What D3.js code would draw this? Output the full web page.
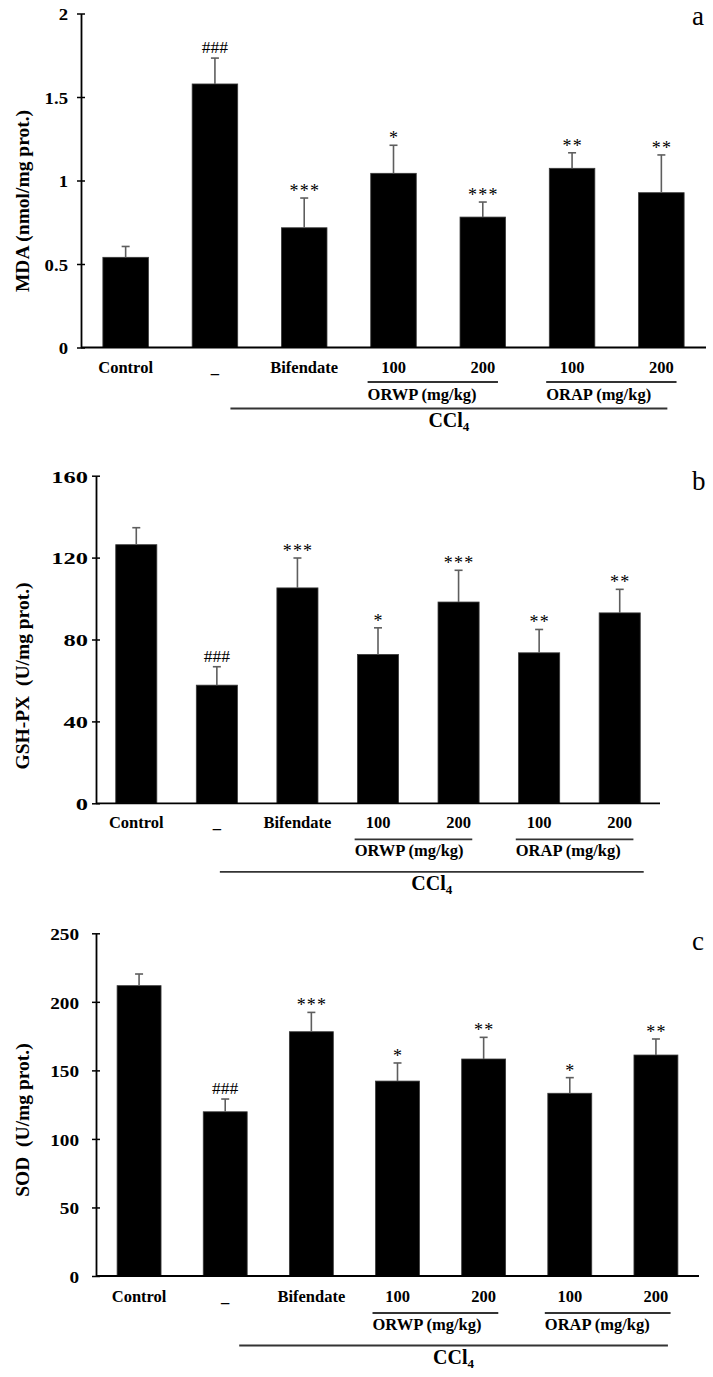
<!DOCTYPE html>
<html>
<head>
<meta charset="utf-8">
<script src="https://cdn.jsdelivr.net/npm/d3@7"></script>
<style>
  html, body { margin: 0; padding: 0; background: #fff; }
  svg { display: block; }
  text { font-family: "Liberation Serif", "Times New Roman", serif; }
</style>
</head>
<body>
<svg id="chart" width="713" height="1377"></svg>
<script>
// ---------- data ----------
const categories = ["Control", "_", "Bifendate", "100", "200", "100", "200"];

const mdaValues = [0.54, 1.578, 0.717, 1.043, 0.781, 1.073, 0.927];
const mdaErrors = [0.065, 0.155, 0.178, 0.168, 0.09, 0.093, 0.226];
const mdaMarks  = ["", "###", "***", "*", "***", "**", "**"];
const mdaTicks  = [0, 0.5, 1, 1.5, 2];

const gshValues = [126.3, 57.7, 105.2, 72.7, 98.3, 73.5, 93.0];
const gshErrors = [8.3, 9.0, 14.6, 13.0, 15.5, 11.4, 11.5];
const gshMarks  = ["", "###", "***", "*", "***", "**", "**"];
const gshTicks  = [0, 40, 80, 120, 160];

const sodValues = [211.8, 119.8, 178.2, 142.2, 158.3, 133.3, 161.2];
const sodErrors = [8.5, 9.3, 14.1, 13.2, 15.8, 11.4, 11.7];
const sodMarks  = ["", "###", "***", "*", "**", "*", "**"];
const sodTicks  = [0, 50, 100, 150, 200, 250];

const groupLabels  = ["ORWP (mg/kg)", "ORAP (mg/kg)"];
const groupMembers = [[3, 4], [5, 6]];
const treatLabel   = "CCl";
const treatSub     = "4";
const treatMembers = [1, 6];

const panels = [
  { letter: "a", title: "MDA (nmol/mg prot.)", values: mdaValues, errors: mdaErrors, marks: mdaMarks, ticks: mdaTicks,
    x0: 81, x1: 706, y0: 347.5, yTop: 13.5, tickScale: 1.07, tickGap: 13, titleY: 201,
    off: { cat: 25.5, gLine: 34.5, gText: 52.5, tLine: 61, tText: 79.5 }, tPad: [15.5, 6], letterPos: [692, 25] },
  { letter: "b", title: "GSH-PX  (U/mg prot.)", values: gshValues, errors: gshErrors, marks: gshMarks, ticks: gshTicks,
    x0: 96, x1: 660, y0: 803.3, yTop: 475.7, tickScale: 1.4, tickGap: 8, titleY: 676,
    off: { cat: 25, gLine: 36, gText: 52.5, tLine: 68.5, tText: 87 }, tPad: [3, 24], letterPos: [692, 490] },
  { letter: "c", title: "SOD  (U/mg prot.)", values: sodValues, errors: sodErrors, marks: sodMarks, ticks: sodTicks,
    x0: 96, x1: 699, y0: 1276, yTop: 933.3, tickScale: 1.1, tickGap: 17, titleY: 1120,
    off: { cat: 25.5, gLine: 37, gText: 53.5, tLine: 69.5, tText: 88 }, tPad: [14, 12], letterPos: [692, 950] }
];

const svg = d3.select("#chart");
svg.append("rect").attr("width", 713).attr("height", 1377).attr("fill", "#fff");

panels.forEach(p => {
  const g = svg.append("g");
  const idx = d3.range(categories.length);
  const x = d3.scaleBand().domain(idx).range([p.x0, p.x1]).paddingInner(0.49).paddingOuter(0.245);
  const y = d3.scaleLinear().domain([0, d3.max(p.ticks)]).range([p.y0, p.yTop]);
  const cx = i => x(i) + x.bandwidth() / 2;

  // bars
  g.selectAll("rect.bar").data(p.values).join("rect")
    .attr("class", "bar")
    .attr("x", (d, i) => x(i))
    .attr("width", x.bandwidth())
    .attr("y", d => y(d))
    .attr("height", d => y(0) - y(d))
    .attr("fill", "#000")
    .attr("stroke", "#3a3a3a").attr("stroke-width", 0.8);

  // error bars (upper only)
  const eb = g.selectAll("g.err").data(p.values).join("g").attr("class", "err")
    .attr("stroke", "#5e5e5e").attr("stroke-width", 1.6);
  eb.append("line")
    .attr("x1", (d, i) => cx(i)).attr("x2", (d, i) => cx(i))
    .attr("y1", d => y(d)).attr("y2", (d, i) => y(d + p.errors[i]));
  eb.append("line")
    .attr("x1", (d, i) => cx(i) - 4).attr("x2", (d, i) => cx(i) + 4)
    .attr("y1", (d, i) => y(d + p.errors[i])).attr("y2", (d, i) => y(d + p.errors[i]));

  // significance marks
  g.selectAll("text.sig").data(p.marks).join("text")
    .attr("class", "sig")
    .attr("x", (d, i) => cx(i) + (d.startsWith("#") ? 0 : 0.6))
    .attr("y", (d, i) => y(p.values[i] + p.errors[i]) - (d.startsWith("#") ? 5 : 1))
    .attr("text-anchor", "middle")
    .attr("font-size", d => d.startsWith("#") ? 17.5 : 18)
    .attr("letter-spacing", d => d.startsWith("#") ? 0 : 1.2)
    .attr("fill", "#000")
    .text(d => d);

  // y axis
  const yAxis = d3.axisLeft(y).tickValues(p.ticks).tickSizeInner(-4).tickSizeOuter(0)
    .tickPadding(p.tickGap).tickFormat(d3.format("~g"));
  const ya = g.append("g").attr("transform", `translate(${p.x0},0)`).call(yAxis);
  ya.select(".domain").attr("stroke", "#000").attr("stroke-width", 1.8);
  ya.selectAll(".tick line").attr("stroke", "#000").attr("stroke-width", 1.5).attr("x1", -4);
  ya.selectAll(".tick text")
    .attr("font-family", "'Liberation Serif', 'Times New Roman', serif")
    .attr("font-size", 17.5).attr("font-weight", "bold").attr("fill", "#000")
    .attr("x", 0).attr("dy", "0.36em")
    .attr("transform", `translate(${-p.tickGap},0) scale(${p.tickScale},1)`);

  // x axis line
  const xAxis = d3.axisBottom(x).tickSize(0).tickFormat("");
  const xa = g.append("g").attr("transform", `translate(0,${p.y0})`).call(xAxis);
  xa.select(".domain").attr("stroke", "#000").attr("stroke-width", 1.8)
    .attr("d", `M${p.x0},0H${p.x1}`);
  xa.selectAll(".tick").remove();

  // category labels
  g.selectAll("text.cat").data(categories).join("text")
    .attr("class", "cat")
    .attr("x", (d, i) => cx(i))
    .attr("y", p.y0 + p.off.cat)
    .attr("text-anchor", "middle")
    .attr("font-size", 16.5).attr("font-weight", "bold")
    .text(d => d);

  // group brackets
  groupMembers.forEach((m, k) => {
    const xs = cx(m[0]) - 0.29 * x.step();
    const xe = cx(m[1]) + 0.17 * x.step();
    g.append("line").attr("x1", xs).attr("x2", xe)
      .attr("y1", p.y0 + p.off.gLine).attr("y2", p.y0 + p.off.gLine)
      .attr("stroke", "#333").attr("stroke-width", 1.8);
    g.append("text").attr("x", xs).attr("y", p.y0 + p.off.gText)
      .attr("font-size", 16.5).attr("font-weight", "bold")
      .text(groupLabels[k]);
  });

  // treatment line
  const ts = cx(treatMembers[0]) + p.tPad[0];
  const te = cx(treatMembers[1]) + p.tPad[1];
  g.append("line").attr("x1", ts).attr("x2", te)
    .attr("y1", p.y0 + p.off.tLine).attr("y2", p.y0 + p.off.tLine)
    .attr("stroke", "#333").attr("stroke-width", 1.8);
  const tt = g.append("text").attr("x", (ts + te) / 2).attr("y", p.y0 + p.off.tText)
    .attr("text-anchor", "middle").attr("font-size", 20).attr("font-weight", "bold");
  tt.append("tspan").text(treatLabel);
  tt.append("tspan").attr("font-size", 13).attr("dy", 4).text(treatSub);

  // y title
  g.append("text")
    .attr("transform", `translate(29,${p.titleY}) rotate(-90)`)
    .attr("text-anchor", "middle")
    .attr("font-size", 19.5).attr("font-weight", "bold")
    .style("white-space", "pre")
    .text(p.title);

  // panel letter
  g.append("text").attr("x", p.letterPos[0]).attr("y", p.letterPos[1])
    .attr("font-size", 27).text(p.letter);
});
</script>
</body>
</html>
